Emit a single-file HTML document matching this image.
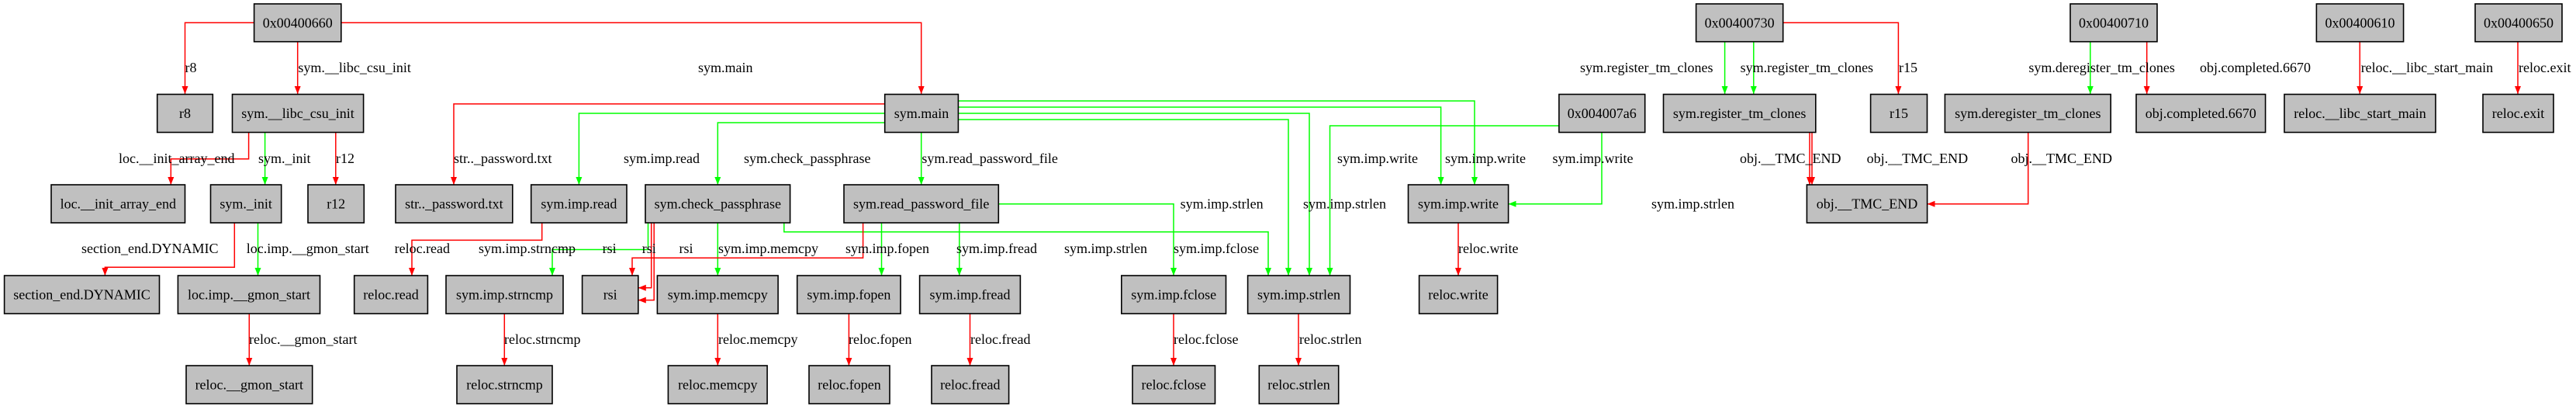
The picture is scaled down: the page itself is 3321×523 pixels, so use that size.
<!DOCTYPE html>
<html><head><meta charset="utf-8"><style>
html,body{margin:0;padding:0;background:#fff;}
svg{display:block;}
text{font-family:"Liberation Serif",serif;font-size:18px;fill:#000;}
.n rect{fill:#c0c0c0;stroke:#000;stroke-width:1.6;}
.r{fill:none;stroke:#ff0000;stroke-width:1.5;marker-end:url(#mr);}
.g{fill:none;stroke:#00ff00;stroke-width:1.5;marker-end:url(#mg);}
</style></head><body>
<svg width="3321" height="523" viewBox="0 0 3321 523" xmlns="http://www.w3.org/2000/svg">
<defs>
<marker id="mr" markerUnits="userSpaceOnUse" markerWidth="11" markerHeight="9" refX="10" refY="4" orient="auto"><path d="M0,0 L10,4 L0,8 z" fill="#ff0000"/></marker>
<marker id="mg" markerUnits="userSpaceOnUse" markerWidth="11" markerHeight="9" refX="10" refY="4" orient="auto"><path d="M0,0 L10,4 L0,8 z" fill="#00ff00"/></marker>
</defs>

<!-- edges -->
<polyline class="r" points="327.6,29.2 238.5,29.2 238.5,121"/>
<polyline class="r" points="383.7,53.7 383.7,121"/>
<polyline class="r" points="439.8,29.2 1187.7,29.2 1187.7,121"/>
<polyline class="r" points="320.6,170.5 320.6,204.7 220.3,204.7 220.3,238"/>
<polyline class="g" points="341.6,170.5 341.6,238"/>
<polyline class="r" points="432.8,170.5 432.8,238"/>
<polyline class="r" points="302.3,287 302.3,344.3 135.4,344.3 135.4,355"/>
<polyline class="g" points="332.5,287 332.5,355"/>
<polyline class="r" points="321.3,404 321.3,471"/>
<polyline class="r" points="1140.7,133.9 585,133.9 585,238"/>
<polyline class="g" points="1140.7,146 746.4,146 746.4,238"/>
<polyline class="g" points="1140.7,158 925.3,158 925.3,238"/>
<polyline class="g" points="1187.7,170.5 1187.7,238"/>
<polyline class="g" points="1235.4,130 1901,130 1901,238"/>
<polyline class="g" points="1235.4,138 1857.6,138 1857.6,238"/>
<polyline class="g" points="1235.4,146 1688,146 1688,355"/>
<polyline class="g" points="1235.4,154 1661,154 1661,355"/>
<polyline class="g" points="2009.9,162 1714.5,162 1714.5,355"/>
<polyline class="g" points="2065,170.5 2065,262.7 1944.6,262.7"/>
<polyline class="g" points="1287.3,262.7 1513,262.7 1513,355"/>
<polyline class="g" points="1136.5,287 1136.5,355"/>
<polyline class="g" points="1236.8,287 1236.8,355"/>
<polyline class="g" points="1010.8,287 1010.8,298.7 1635,298.7 1635,355"/>
<polyline class="g" points="925.3,287 925.3,355"/>
<polyline class="g" points="835.5,287 835.5,321.5 712,321.5 712,355"/>
<polyline class="r" points="839.7,287 839.7,370.8 822.8,370.8"/>
<polyline class="r" points="843.2,287 843.2,386.6 822.8,386.6"/>
<polyline class="r" points="1112.6,287 1112.6,332.2 815,332.2 815,355"/>
<polyline class="r" points="698.7,287 698.7,309.4 531,309.4 531,355"/>
<polyline class="r" points="650.3,404 650.3,471"/>
<polyline class="r" points="925.3,404 925.3,471"/>
<polyline class="r" points="1094.4,404 1094.4,471"/>
<polyline class="r" points="1250.5,404 1250.5,471"/>
<polyline class="r" points="1513,404 1513,471"/>
<polyline class="r" points="1674,404 1674,471"/>
<polyline class="r" points="1880,287 1880,355"/>
<polyline class="g" points="2223.6,53.7 2223.6,121"/>
<polyline class="g" points="2260.8,53.7 2260.8,121"/>
<polyline class="r" points="2298.7,29.2 2447.4,29.2 2447.4,121"/>
<polyline class="r" points="2333,170.5 2333,238"/>
<polyline class="r" points="2336,170.5 2336,238"/>
<polyline class="r" points="2614.7,170.5 2614.7,262.7 2484.6,262.7"/>
<polyline class="g" points="2694.8,53.7 2694.8,121"/>
<polyline class="r" points="2767.7,53.7 2767.7,121"/>
<polyline class="r" points="3042.3,53.7 3042.3,121"/>
<polyline class="r" points="3246,53.7 3246,121"/>

<!-- edge labels -->
<text x="238.5" y="93">r8</text>
<text x="384.4" y="93">sym.__libc_csu_init</text>
<text x="900" y="93">sym.main</text>
<text x="153" y="210">loc.__init_array_end</text>
<text x="333" y="210">sym._init</text>
<text x="433" y="210">r12</text>
<text x="105" y="326">section_end.DYNAMIC</text>
<text x="317.8" y="326">loc.imp.__gmon_start</text>
<text x="321" y="443">reloc.__gmon_start</text>
<text x="585" y="210">str.._password.txt</text>
<text x="804" y="210">sym.imp.read</text>
<text x="959" y="210">sym.check_passphrase</text>
<text x="1188.4" y="210">sym.read_password_file</text>
<text x="1724" y="210">sym.imp.write</text>
<text x="1863" y="210">sym.imp.write</text>
<text x="2001.5" y="210">sym.imp.write</text>
<text x="1521.6" y="268.7">sym.imp.strlen</text>
<text x="1680" y="268.7">sym.imp.strlen</text>
<text x="2129" y="268.7">sym.imp.strlen</text>
<text x="1513" y="326">sym.imp.fclose</text>
<text x="1090" y="326">sym.imp.fopen</text>
<text x="1233" y="326">sym.imp.fread</text>
<text x="1372" y="326">sym.imp.strlen</text>
<text x="926" y="326">sym.imp.memcpy</text>
<text x="617" y="326">sym.imp.strncmp</text>
<text x="776.6" y="326">rsi</text>
<text x="827.8" y="326">rsi</text>
<text x="875.5" y="326">rsi</text>
<text x="508.6" y="326">reloc.read</text>
<text x="1880" y="326">reloc.write</text>
<text x="650" y="443">reloc.strncmp</text>
<text x="926" y="443">reloc.memcpy</text>
<text x="1094" y="443">reloc.fopen</text>
<text x="1251" y="443">reloc.fread</text>
<text x="1513" y="443">reloc.fclose</text>
<text x="1675" y="443">reloc.strlen</text>
<text x="2037" y="93">sym.register_tm_clones</text>
<text x="2243.6" y="93">sym.register_tm_clones</text>
<text x="2448" y="93">r15</text>
<text x="2243" y="210">obj.__TMC_END</text>
<text x="2406.6" y="210">obj.__TMC_END</text>
<text x="2592.5" y="210">obj.__TMC_END</text>
<text x="2615.4" y="93">sym.deregister_tm_clones</text>
<text x="2836" y="93">obj.completed.6670</text>
<text x="3043.7" y="93">reloc.__libc_start_main</text>
<text x="3247" y="93">reloc.exit</text>

<!-- nodes -->
<g class="n" text-anchor="middle">
<rect x="327.6" y="5" width="112.2" height="48.7"/><text x="383.7" y="35.5">0x00400660</text>
<rect x="2186.6" y="5" width="112.1" height="48.7"/><text x="2242.6" y="35.5">0x00400730</text>
<rect x="2669" y="5" width="112" height="48.7"/><text x="2725" y="35.5">0x00400710</text>
<rect x="2986.4" y="5" width="112.2" height="48.7"/><text x="3042.5" y="35.5">0x00400610</text>
<rect x="3191" y="5" width="112" height="48.7"/><text x="3247" y="35.5">0x00400650</text>

<rect x="202.7" y="121.5" width="71.6" height="49"/><text x="238.5" y="152">r8</text>
<rect x="299.5" y="121.5" width="169.1" height="49"/><text x="384" y="152">sym.__libc_csu_init</text>
<rect x="1140.7" y="121.5" width="94.7" height="49"/><text x="1188" y="152">sym.main</text>
<rect x="2009.9" y="121.5" width="110.8" height="49"/><text x="2065.3" y="152">0x004007a6</text>
<rect x="2144.5" y="121.5" width="196.3" height="49"/><text x="2242.6" y="152">sym.register_tm_clones</text>
<rect x="2411.6" y="121.5" width="72.9" height="49"/><text x="2448" y="152">r15</text>
<rect x="2507.4" y="121.5" width="213.8" height="49"/><text x="2614.3" y="152">sym.deregister_tm_clones</text>
<rect x="2754" y="121.5" width="166.6" height="49"/><text x="2837.3" y="152">obj.completed.6670</text>
<rect x="2945" y="121.5" width="195" height="49"/><text x="3042.5" y="152">reloc.__libc_start_main</text>
<rect x="3201" y="121.5" width="91" height="49"/><text x="3246.5" y="152">reloc.exit</text>

<rect x="66" y="238" width="172.5" height="49"/><text x="152.3" y="268.5">loc.__init_array_end</text>
<rect x="271.5" y="238" width="91.2" height="49"/><text x="317.1" y="268.5">sym._init</text>
<rect x="397" y="238" width="72.3" height="49"/><text x="433.2" y="268.5">r12</text>
<rect x="510" y="238" width="150.8" height="49"/><text x="585.4" y="268.5">str.._password.txt</text>
<rect x="684.7" y="238" width="123.3" height="49"/><text x="746.4" y="268.5">sym.imp.read</text>
<rect x="832" y="238" width="186.6" height="49"/><text x="925.3" y="268.5">sym.check_passphrase</text>
<rect x="1088" y="238" width="199.3" height="49"/><text x="1187.7" y="268.5">sym.read_password_file</text>
<rect x="1815.5" y="238" width="129.1" height="49"/><text x="1880" y="268.5">sym.imp.write</text>
<rect x="2329.4" y="238" width="155.2" height="49"/><text x="2407" y="268.5">obj.__TMC_END</text>

<rect x="5.6" y="355" width="199.9" height="49"/><text x="105.5" y="385.5">section_end.DYNAMIC</text>
<rect x="229.4" y="355" width="183.1" height="49"/><text x="321" y="385.5">loc.imp.__gmon_start</text>
<rect x="456.7" y="355" width="94.7" height="49"/><text x="504" y="385.5">reloc.read</text>
<rect x="575" y="355" width="151" height="49"/><text x="650.5" y="385.5">sym.imp.strncmp</text>
<rect x="750.6" y="355" width="72.2" height="49"/><text x="786.7" y="385.5">rsi</text>
<rect x="847.4" y="355" width="155.7" height="49"/><text x="925.3" y="385.5">sym.imp.memcpy</text>
<rect x="1027.7" y="355" width="133.3" height="49"/><text x="1094.4" y="385.5">sym.imp.fopen</text>
<rect x="1185.6" y="355" width="129.8" height="49"/><text x="1250.5" y="385.5">sym.imp.fread</text>
<rect x="1445.8" y="355" width="134.7" height="49"/><text x="1513.2" y="385.5">sym.imp.fclose</text>
<rect x="1608.6" y="355" width="131.9" height="49"/><text x="1674.5" y="385.5">sym.imp.strlen</text>
<rect x="1829.6" y="355" width="101" height="49"/><text x="1880" y="385.5">reloc.write</text>

<rect x="240" y="471" width="162.7" height="49"/><text x="321.3" y="501.5">reloc.__gmon_start</text>
<rect x="589" y="471" width="123" height="49"/><text x="650.5" y="501.5">reloc.strncmp</text>
<rect x="861.4" y="471" width="127.7" height="49"/><text x="925.3" y="501.5">reloc.memcpy</text>
<rect x="1043" y="471" width="104" height="49"/><text x="1095" y="501.5">reloc.fopen</text>
<rect x="1201" y="471" width="99.6" height="49"/><text x="1250.8" y="501.5">reloc.fread</text>
<rect x="1460" y="471" width="106.5" height="49"/><text x="1513.2" y="501.5">reloc.fclose</text>
<rect x="1623.3" y="471" width="102.4" height="49"/><text x="1674.5" y="501.5">reloc.strlen</text>
</g>
</svg>
</body></html>
